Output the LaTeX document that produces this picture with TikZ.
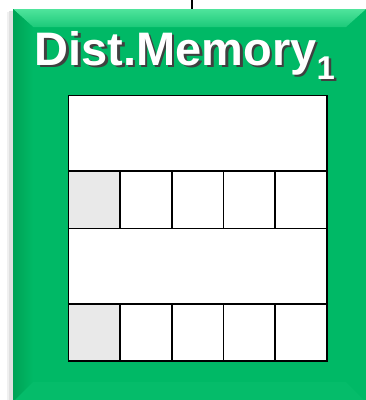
\documentclass[tikz,border=0pt]{standalone}
\usepackage{fontspec}
\setmainfont{Liberation Sans}
\definecolor{mgreen}{HTML}{00B966}
\definecolor{topA}{HTML}{4FE49C}
\definecolor{topB}{HTML}{1CC979}
\definecolor{leftA}{HTML}{00A255}
\definecolor{botB}{HTML}{05BC6A}
\definecolor{cellgrey}{HTML}{E9E9E9}
\tikzset{
  cellbox/.style={draw=black, line width=1.6pt, fill=white},
  greycell/.style={draw=black, line width=1.6pt, fill=cellgrey},
  titletext/.style={font=\bfseries\fontsize{47}{47}\selectfont, inner sep=0pt, anchor=base, text=white},
}
\newcommand{\shadowtitle}[1]{\rlap{\hspace{2.5pt}\raisebox{-2.5pt}{\color{black!75}#1}}#1}
\begin{document}
\begin{tikzpicture}[x=1pt,y=-1pt]
\useasboundingbox (0,0) rectangle (366,400);
\begin{scope}
\clip (0,0) rectangle (366,400);
% soft shadow left
\fill[black!12] (9,11) rectangle (13,400);
\fill[black!6] (7,12) rectangle (9,400);
% main box
\fill[mgreen] (13,9) rectangle (366,402);
% top bevel
\shade[top color=topA, bottom color=topB] (13,9) -- (366,9) -- (346,27) -- (33,27) -- cycle;
% left bevel
\shade[left color=leftA, right color=mgreen] (13,9) -- (33,27) -- (33,382) -- (13,402) -- cycle;
% bottom bevel
\fill[botB] (13,402) -- (33,382) -- (346,382) -- (366,402) -- cycle;
\end{scope}
% connector from above
\coordinate (up) at (192,0);
\coordinate (boxtop) at (192,9);
\draw[line width=1.2pt] (up) -- (boxtop);
% title
\node[titletext] (title) at (185,65) {\shadowtitle{Dist.Memory\textsubscript{1}}};
% memory blocks
\node[cellbox, minimum width=258.5pt, minimum height=75.5pt, inner sep=0pt, anchor=north west] (blockA) at (67.5,94.7) {};
\node[cellbox, minimum width=258.5pt, minimum height=75.5pt, inner sep=0pt, anchor=north west] (blockB) at (67.5,227.5) {};
\foreach \r/\y in {1/170.2, 2/303} {
  \foreach \c in {0,...,4} {
    \pgfmathsetmacro{\xx}{67.5+51.7*\c}
    \ifnum\c=0
      \node[greycell, minimum width=51.7pt, minimum height=57.3pt, inner sep=0pt, anchor=north west] (cell\r\c) at (\xx,\y) {};
    \else
      \node[cellbox, minimum width=51.7pt, minimum height=57.3pt, inner sep=0pt, anchor=north west] (cell\r\c) at (\xx,\y) {};
    \fi
  }
}
\end{tikzpicture}
\end{document}
